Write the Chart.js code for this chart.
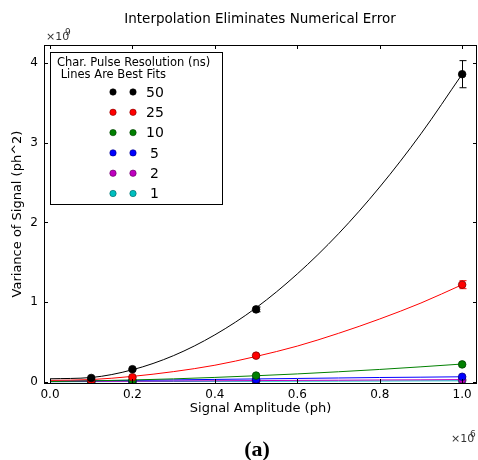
<!DOCTYPE html>
<html>
<head>
<meta charset="utf-8">
<script src="https://cdn.jsdelivr.net/npm/chart.js@4.4.1/dist/chart.umd.min.js"></script>
<style>
  html, body { margin: 0; padding: 0; background: #fff; }
  #grafico { display: block; }
</style>
</head>
<body>
<canvas id="grafico" width="478" height="460"></canvas>
<script>
// puntos medidos (x en ph, y en unidades de 1e9 ph^2)
const amplitudes = [100000, 200000, 500000, 1000000];
const resoluciones = ['50', '25', '10', '5', '2', '1'];
const colores = ['#000000', '#ff0000', '#008000', '#0000ff', '#bf00bf', '#00bfbf'];

const var50 = [0.05, 0.16, 0.91, 3.86];
const var25 = [0.02, 0.06, 0.33, 1.22];
const var10 = [0.01, 0.02, 0.08, 0.22];
const var5 = [0.005, 0.01, 0.03, 0.065];
const var2 = [0.003, 0.006, 0.015, 0.03];
const var1 = [0.001, 0.003, 0.008, 0.015];

const err50 = [0.005, 0.01, 0.03, 0.17];
const err25 = [0.003, 0.005, 0.015, 0.05];
const err10 = [0.002, 0.003, 0.005, 0.01];
const err5 = [0.001, 0.002, 0.003, 0.005];
const err2 = [0.001, 0.001, 0.002, 0.003];
const err1 = [0.001, 0.001, 0.001, 0.002];

// curvas de ajuste
const xAjuste = [0, 100000, 200000, 300000, 400000, 500000, 600000, 700000, 800000, 900000, 1000000];
const ajuste50 = [0.04, 0.056, 0.153, 0.331, 0.591, 0.93, 1.355, 1.859, 2.445, 3.112, 3.86];
const ajuste25 = [0.02, 0.03, 0.07, 0.13, 0.21, 0.32, 0.45, 0.61, 0.79, 0.99, 1.22];
const ajuste10 = [0.005, 0.014, 0.025, 0.039, 0.057, 0.078, 0.101, 0.128, 0.157, 0.19, 0.225];
const ajuste5 = [0.01, 0.015, 0.02, 0.026, 0.032, 0.038, 0.044, 0.05, 0.056, 0.06, 0.065];
const ajuste2 = [0.004, 0.007, 0.009, 0.012, 0.015, 0.017, 0.02, 0.022, 0.025, 0.027, 0.03];
const ajuste1 = [0.003, 0.004, 0.005, 0.006, 0.008, 0.009, 0.01, 0.011, 0.012, 0.014, 0.015];

const xTicks = [0, 200000, 400000, 600000, 800000, 1000000];
const yTicks = [0, 1, 2, 3, 4];

const varianzas = [var50, var25, var10, var5, var2, var1];
const errores = [err50, err25, err10, err5, err2, err1];
const ajustes = [ajuste50, ajuste25, ajuste10, ajuste5, ajuste2, ajuste1];

const fuente = "'DejaVu Sans', sans-serif";

function oscurecer(hex) {
    const num = parseInt(hex.slice(1), 16);
    const r = Math.floor((num >> 16) * 0.5);
    const g = Math.floor(((num >> 8) & 0xff) * 0.5);
    const b = Math.floor((num & 0xff) * 0.5);
    return `rgb(${r},${g},${b})`;
}

const datasets = [];
varianzas.forEach((serie, i) => {
    datasets.push({
        label: resoluciones[i],
        data: amplitudes.map((x, j) => ({ x: x, y: serie[j] * 1e9 })),
        showLine: false,
        pointRadius: 3.8,
        pointBackgroundColor: colores[i],
        pointBorderColor: oscurecer(colores[i]),
        pointBorderWidth: 0.8,
        order: 0
    });
});
ajustes.forEach((serie, i) => {
    datasets.push({
        label: 'fit ' + resoluciones[i],
        data: xAjuste.map((x, j) => ({ x: x, y: serie[j] * 1e9 })),
        showLine: true,
        borderColor: colores[i],
        borderWidth: 1,
        pointRadius: 0,
        cubicInterpolationMode: 'monotone',
        order: 1
    });
});

const decoracion = {
    id: 'decoracion',
    beforeDatasetsDraw(chart) {
        const ctx = chart.ctx;
        const sx = chart.scales.x, sy = chart.scales.y;
        ctx.save();
        errores.forEach((serie, i) => {
            ctx.strokeStyle = colores[i];
            ctx.lineWidth = 1;
            amplitudes.forEach((x, j) => {
                const px = Math.round(sx.getPixelForValue(x)) + 0.5;
                const top = sy.getPixelForValue((varianzas[i][j] + serie[j]) * 1e9);
                const bot = sy.getPixelForValue((varianzas[i][j] - serie[j]) * 1e9);
                if (bot - top < 3) return;
                ctx.beginPath();
                ctx.moveTo(px, top); ctx.lineTo(px, bot);
                ctx.moveTo(px - 3, top); ctx.lineTo(px + 4, top);
                ctx.moveTo(px - 3, bot); ctx.lineTo(px + 4, bot);
                ctx.stroke();
            });
        });
        ctx.restore();
    },
    afterDraw(chart) {
        const ctx = chart.ctx;
        const a = chart.chartArea;
        const sx = chart.scales.x, sy = chart.scales.y;
        ctx.save();
        // marco y marcas hacia adentro
        ctx.strokeStyle = '#000';
        ctx.lineWidth = 1;
        ctx.strokeRect(Math.round(a.left) + 0.5, Math.round(a.top) + 0.5,
            Math.round(a.right - a.left) - 1, Math.round(a.bottom - a.top));
        ctx.beginPath();
        xTicks.forEach(v => {
            const px = Math.round(sx.getPixelForValue(v)) + 0.5;
            ctx.moveTo(px, a.bottom); ctx.lineTo(px, a.bottom - 4);
            ctx.moveTo(px, a.top); ctx.lineTo(px, a.top + 4);
        });
        yTicks.forEach(v => {
            const py = Math.round(sy.getPixelForValue(v * 1e9)) + 0.5;
            ctx.moveTo(a.left, py); ctx.lineTo(a.left + 4, py);
            ctx.moveTo(a.right, py); ctx.lineTo(a.right - 4, py);
        });
        ctx.stroke();

        // titulo
        ctx.fillStyle = '#000';
        ctx.font = '13.5px ' + fuente;
        ctx.textAlign = 'center';
        ctx.textBaseline = 'middle';
        ctx.fillText('Interpolation Eliminates Numerical Error', 260, 19);

        // multiplicadores
        ctx.fillStyle = '#333';
        ctx.textAlign = 'left';
        ctx.textBaseline = 'alphabetic';
        ctx.font = '11px ' + fuente;
        ctx.fillText('\u00d710', 46, 40);
        ctx.font = '9px ' + fuente;
        ctx.fillText('9', 65, 35);
        ctx.font = '11px ' + fuente;
        ctx.fillText('\u00d710', 451, 442);
        ctx.font = '9px ' + fuente;
        ctx.fillText('6', 470, 437);

        // etiqueta (a)
        ctx.fillStyle = '#000';
        ctx.textAlign = 'center';
        ctx.textBaseline = 'middle';
        ctx.font = "bold 22px 'Liberation Serif', 'DejaVu Serif', serif";
        ctx.fillText('(a)', 257, 450);

        // leyenda
        ctx.fillStyle = '#fff';
        ctx.fillRect(50, 52, 172, 152);
        ctx.strokeStyle = '#000';
        ctx.strokeRect(50.5, 52.5, 172, 152);
        ctx.fillStyle = '#000';
        ctx.textAlign = 'left';
        ctx.font = '11.5px ' + fuente;
        ctx.fillText('Char. Pulse Resolution (ns)', 57, 63);
        ctx.fillText(' Lines Are Best Fits', 57, 75);
        resoluciones.forEach((r, i) => {
            const y = 92 + i * 20.3;
            [113, 133].forEach(x => {
                ctx.beginPath();
                ctx.arc(x, y, 3.2, 0, Math.PI * 2);
                ctx.fillStyle = colores[i];
                ctx.fill();
                ctx.lineWidth = 0.6;
                ctx.strokeStyle = oscurecer(colores[i]);
                ctx.stroke();
            });
            ctx.fillStyle = '#000';
            ctx.font = '14px ' + fuente;
            ctx.fillText(r, r.length > 1 ? 146 : 150, y + 1);
        });
        ctx.restore();
    }
};

new Chart(document.getElementById('grafico'), {
    type: 'scatter',
    data: { datasets: datasets },
    options: {
        responsive: false,
        animation: false,
        layout: { autoPadding: false, padding: { top: 45, right: 1, left: 0, bottom: 0 } },
        plugins: {
            legend: { display: false },
            tooltip: { enabled: false }
        },
        scales: {
            x: {
                type: 'linear',
                min: -14600,
                max: 1036000,
                afterBuildTicks: scale => { scale.ticks = xTicks.map(v => ({ value: v })); },
                afterFit: scale => {
                    scale.height = 77;
                    scale.paddingLeft = 0;
                    scale.paddingRight = 0;
                },
                grid: { display: false, drawTicks: false },
                border: { display: false },
                ticks: {
                    padding: 5,
                    color: '#000',
                    font: { family: fuente, size: 12 },
                    callback: v => (v / 1e6).toFixed(1)
                },
                title: {
                    display: true,
                    text: 'Signal Amplitude (ph)',
                    color: '#000',
                    font: { family: fuente, size: 13 },
                    padding: { top: 0, bottom: 44 }
                }
            },
            y: {
                type: 'linear',
                min: -0.013e9,
                max: 4.226e9,
                afterBuildTicks: scale => { scale.ticks = yTicks.map(v => ({ value: v * 1e9 })); },
                afterFit: scale => {
                    scale.width = 44;
                    scale.paddingTop = 0;
                    scale.paddingBottom = 0;
                },
                grid: { display: false, drawTicks: false },
                border: { display: false },
                ticks: {
                    padding: 6,
                    color: '#000',
                    font: { family: fuente, size: 12 },
                    callback: v => String(Math.round(v / 1e9))
                },
                title: {
                    display: true,
                    text: 'Variance of Signal (ph^2)',
                    color: '#000',
                    font: { family: fuente, size: 13 },
                    padding: { top: 10, bottom: 0 }
                }
            }
        }
    },
    plugins: [decoracion]
});
</script>
</body>
</html>
